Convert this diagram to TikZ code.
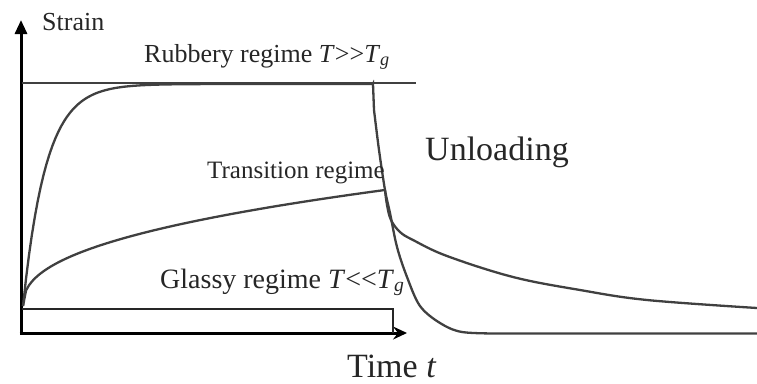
\documentclass[tikz,border=0pt]{standalone}
\usepackage{fontspec}
\setmainfont{Liberation Serif}
\usetikzlibrary{arrows.meta}
\newcommand{\fsz}[1]{\fontsize{#1}{#1}\selectfont}
\begin{document}
\begin{tikzpicture}[x=1pt,y=-1pt,
  axisline/.style={line width=3pt,black},
  curve/.style={line width=2.3pt,black!75},
  levelline/.style={line width=1.4pt,black!75},
  loadline/.style={line width=2.3pt,black!85},
  lbl/.style={inner sep=0pt,anchor=base west,text=black!85}]
\useasboundingbox (0,0) rectangle (757,383);

% axes
\coordinate (O) at (21,333);
\coordinate (ytop) at (21,20);
\coordinate (xend) at (407,333);
\draw[axisline,-{Triangle[length=14pt,width=12pt]}] (21,334.5) -- (ytop);
\draw[axisline,-{Stealth[length=14pt,width=13pt,inset=5pt]}] (19.5,333) -- (xend);

% applied load history
\coordinate (L0) at (22,309);
\coordinate (L1) at (393,309);
\coordinate (L2) at (393,333);
\draw[loadline] (L0) -- (L1) -- (L2);

% rubbery strain level
\coordinate (R0) at (22,83);
\coordinate (R1) at (416,83);
\draw[levelline] (R0) -- (R1);

% rubbery regime: fast creep, then fast recovery
\draw[curve] plot[domain=23:373,samples=120,variable=\x]
  ({\x},{306-222*(1-exp(-(\x-23)/23))})
  -- (373,84) -- (374,110)
  plot[smooth,tension=0.55] coordinates {(374,110) (379,150) (385,190) (390,213) (397,247) (407,277) (420,306) (440,323) (462,332) (500,333.5)}
  -- (757,333.5);

% transition regime: slow creep, then slow recovery
\draw[curve] plot[domain=23:385,samples=120,variable=\x]
  ({\x},{306-9.77*(\x-23)^0.42})
  plot[smooth,tension=0.6] coordinates {(385,190) (387,205) (391,220) (400,232) (413,240) (447,256) (513,277) (580,290) (647,300) (757,308)};

% labels
\node[lbl,font=\fsz{26}] (strain) at (42,30) {Strain};
\node[lbl,font=\fsz{26}] (rubbery) at (144,62) {Rubbery regime \textit{T}>{}>\textit{T}\textsubscript{\textit{g}}};
\node[lbl,font=\fsz{25}] (trans) at (207,178) {Transition regime};
\node[lbl,font=\fsz{28}] (glassy) at (160,288) {Glassy regime \textit{T}<{}<\textit{T}\textsubscript{\textit{g}}};
\node[lbl,font=\fsz{34}] (unload) at (425,160) {Unloading};
\node[lbl,font=\fsz{34}] (time) at (347,377) {Time \textit{t}};
\end{tikzpicture}
\end{document}
